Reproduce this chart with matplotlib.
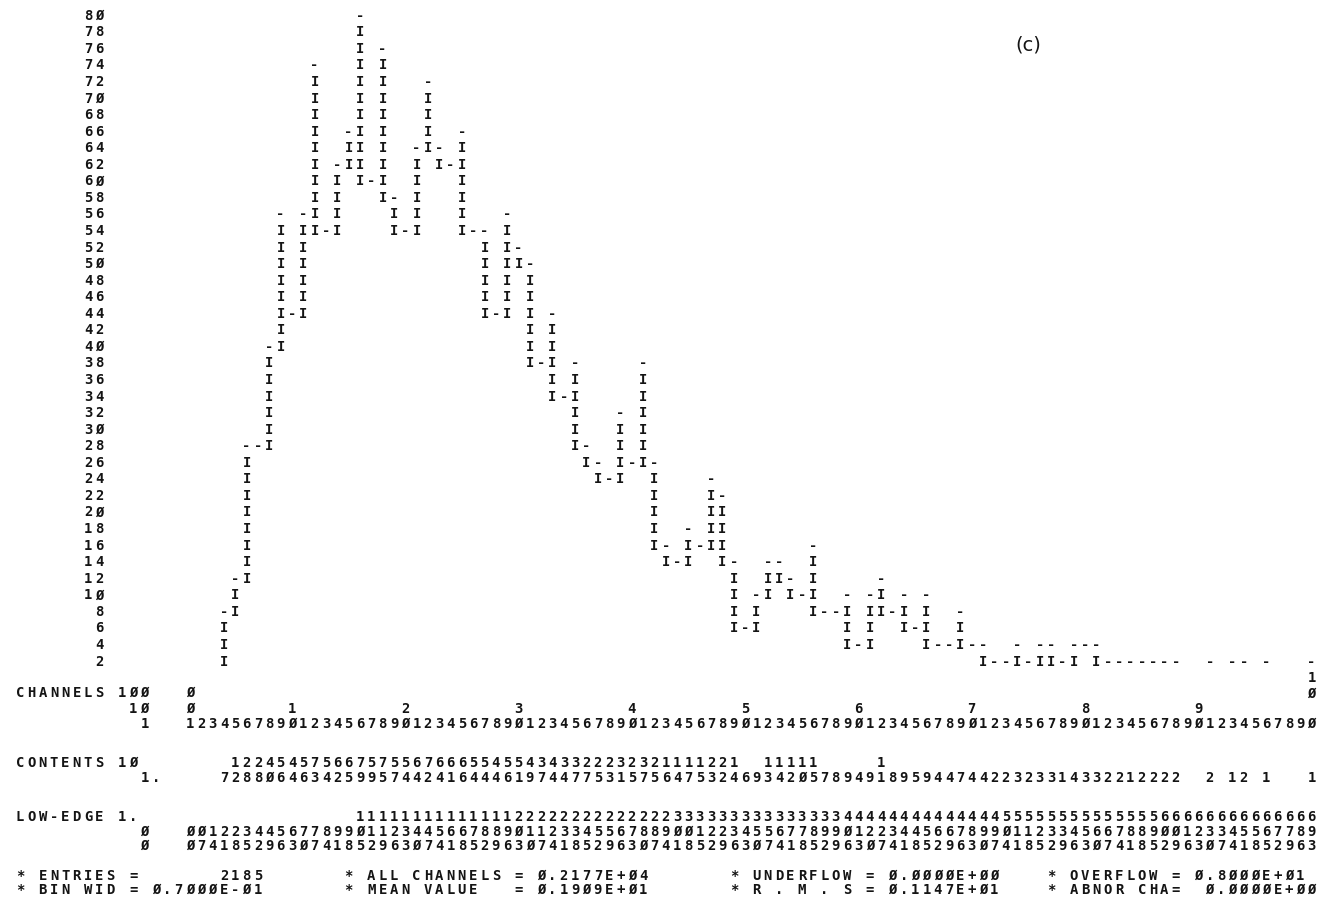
import math

import matplotlib
matplotlib.use("Agg")
import matplotlib.pyplot as plt
from matplotlib.transforms import blended_transform_factory

# HBOOK line-printer histogram (c): 100 channels of width 0.07 starting at 0
N_CHANNELS = 100
BIN_WIDTH = 0.07
FIRST_FILLED = 4          # channels 1-3 are empty

# contents of channels 4..100
CONTENTS = [
    7, 12, 28, 28, 40, 56, 44, 56, 73, 54,
    62, 65, 79, 59, 75, 57, 54, 64, 72, 64,
    61, 66, 54, 54, 44, 56, 51, 49, 37, 44,
    34, 37, 27, 25, 23, 31, 25, 37, 25, 16,
    14, 17, 15, 23, 22, 14, 6, 9, 13, 14,
    12, 10, 15, 7, 8, 9, 4, 9, 11, 8,
    9, 5, 9, 4, 4, 7, 4, 4, 2, 2,
    3, 2, 3, 3, 1, 4, 3, 3, 2, 2,
    1, 2, 2, 2, 2, 0, 0, 2, 0, 1,
    2, 0, 1, 0, 0, 0, 1,
]

ENTRIES = 2185
UNDERFLOW = 0
OVERFLOW = 8
MEAN_VALUE = 1.909
RMS = 1.147
ABNOR_CHA = 0
Y_TICKS = list(range(2, 81, 2))   # one printer line = 2 entries
PANEL_TAG = "(c)"

# page geometry (pixels of the 1333x909 page)
W, H = 1333, 909
CH1_X, PITCH = 190.0, 11.33       # x of channel 1, character pitch
ROW80_Y, UNIT_Y = 15.7, 8.28      # y of the "80" line, pixels per entry
COL0 = -14                        # page column 0 expressed in channels

FONT = dict(family="DejaVu Sans Mono", fontsize=10, fontweight="bold",
            color="#141414", ha="center", va="center")


def slash(s):
    return s.replace("0", "\u00d8")


def hb_e(x):
    """HBOOK style E10.4, e.g. 0.2177E+04"""
    if x == 0:
        return "0.0000E+00"
    e = math.floor(math.log10(abs(x))) + 1
    m = round(x / 10 ** e * 1e4)
    if m >= 10000:
        m, e = 1000, e + 1
    sign = "+" if e >= 0 else "-"
    return f"0.{m:04d}E{sign}{abs(e):02d}"


values = [0] * (FIRST_FILLED - 1) + CONTENTS
values += [0] * (N_CHANNELS - len(values))
channels = list(range(1, N_CHANNELS + 1))
rows = [math.ceil(v / 2) for v in values]     # top printer line of each channel

fig = plt.figure(figsize=(W / 100, H / 100), dpi=100)
ax = fig.add_axes([0, 0, 1, 1])
ax.set_xlim(1 - CH1_X / PITCH, 1 + (W - CH1_X) / PITCH)
ax.set_ylim(80 - (H - ROW80_Y) / UNIT_Y, 80 + ROW80_Y / UNIT_Y)
ax.axis("off")
low = blended_transform_factory(ax.transData, fig.transFigure)


def put(col, y_px, text):
    """write a line-printer string starting at page column col"""
    for i, c in enumerate(slash(text)):
        if c != " ":
            ax.text(COL0 + col + i, 1 - y_px / H, c, transform=low, **FONT)


# ---- histogram body: '-' on the top line, 'I' for the vertical edges ----
for i, ch in enumerate(channels):
    r = rows[i]
    if r == 0:
        continue
    ax.text(ch, 2 * r, "-", **FONT)
    left = rows[i - 1] if i > 0 else 0
    right = rows[i + 1] if i + 1 < len(rows) else 0
    for k in range(max(1, min(left, right)), r):
        ax.text(ch, 2 * k, "I", **FONT)

# y labels, right justified on page column 7
for t in Y_TICKS:
    lab = slash(str(t))
    for j, c in enumerate(lab):
        ax.text(COL0 + 8 - len(lab) + j, t, c, **FONT)

# ---- CHANNELS rows ----
put(0, 693, "CHANNELS 100")
put(10, 709, "10")
put(11, 724, "1")
for ch in channels:
    last = ch % 100 == 0          # the last column sits one line high on the page
    if ch == 1 or last:
        y = 678 if last else 693
        ax.text(ch, 1 - y / H, slash(str((ch // 100) % 10)), transform=low, **FONT)
    if ch == 1 or ch % 10 == 0:
        y = 694 if last else 709
        ax.text(ch, 1 - y / H, slash(str((ch // 10) % 10)), transform=low, **FONT)
    ax.text(ch, 1 - 724 / H, slash(str(ch % 10)), transform=low, **FONT)

# ---- CONTENTS rows ----
put(0, 763, "CONTENTS 10")
put(11, 778, "1.")
for ch, v in zip(channels, values):
    if v >= 10:
        ax.text(ch, 1 - 763 / H, slash(str((v // 10) % 10)), transform=low, **FONT)
    if v > 0:
        ax.text(ch, 1 - 778 / H, slash(str(v % 10)), transform=low, **FONT)

# ---- LOW-EDGE rows ----
put(0, 817, "LOW-EDGE 1.")
put(11, 832, "0")
put(11, 846, "0")
for ch in channels:
    e = round((ch - 1) * BIN_WIDTH * 100)
    if e >= 100:
        ax.text(ch, 1 - 817 / H, str(e // 100), transform=low, **FONT)
    ax.text(ch, 1 - 832 / H, slash(str((e // 10) % 10)), transform=low, **FONT)
    ax.text(ch, 1 - 846 / H, slash(str(e % 10)), transform=low, **FONT)

# ---- statistics ----
all_ch = sum(values)
put(0, 876, "* ENTRIES = " + f"{ENTRIES:10d}")
put(29, 876, "* ALL CHANNELS = " + hb_e(all_ch))
put(63, 876, "* UNDERFLOW = " + hb_e(UNDERFLOW))
put(91, 876, "* OVERFLOW = " + hb_e(OVERFLOW))
put(0, 890, "* BIN WID = " + hb_e(BIN_WIDTH))
put(29, 890, "* MEAN VALUE   = " + hb_e(MEAN_VALUE))
put(63, 890, "* R . M . S = " + hb_e(RMS))
put(91, 890, "* ABNOR CHA=  " + hb_e(ABNOR_CHA))

fig.text(1028 / W, 1 - 45 / H, PANEL_TAG, fontsize=14, family="DejaVu Sans",
         ha="center", va="center", color="#141414")

fig.savefig("out.png", dpi=100, facecolor="white")
